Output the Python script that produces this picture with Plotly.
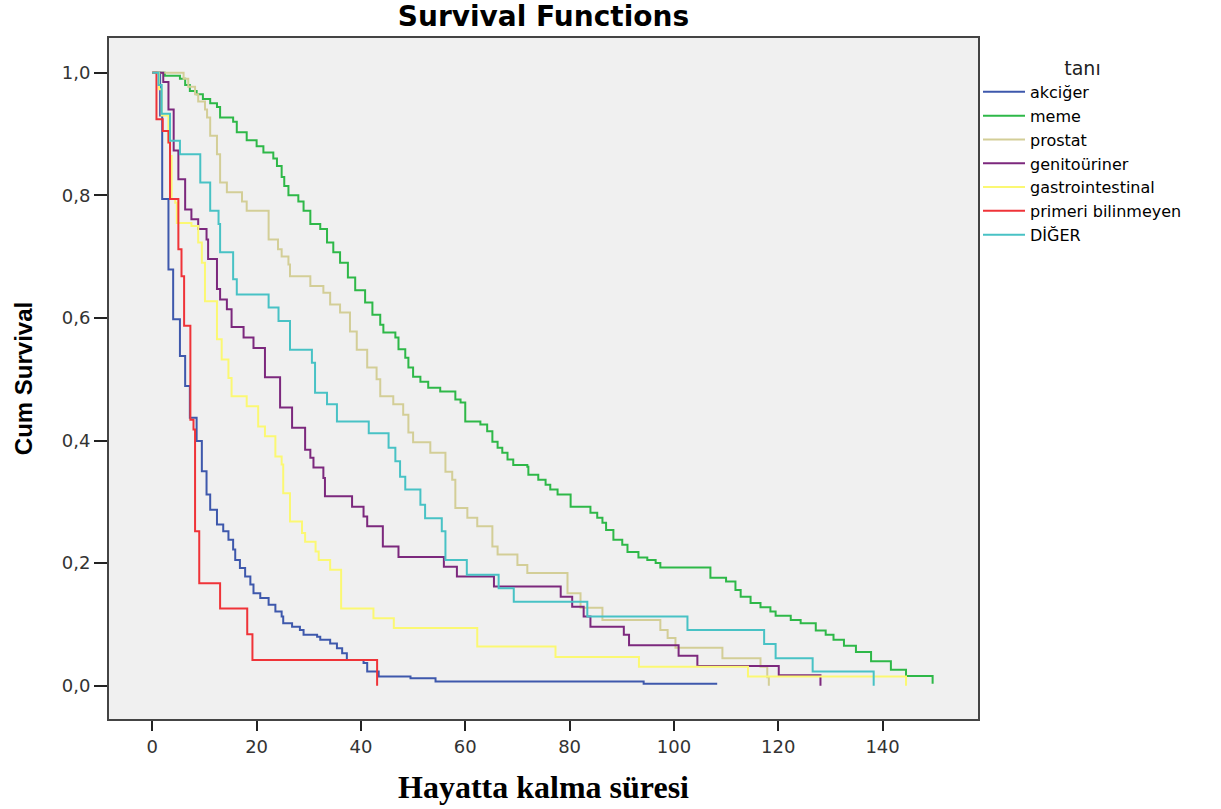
import plotly.graph_objects as go

# ---- data (time, cumulative survival after each step) ----
groups = ["akciğer", "meme", "prostat", "genitoüriner", "gastrointestinal",
          "primeri bilinmeyen", "DİĞER"]
colors = ["#3E58AC", "#2EB848", "#D3CE97", "#7C287D", "#FBF873", "#EF3338", "#48C2C5"]

akciger_t = [1.5, 1.9, 3.1, 4.0, 5.3, 6.3, 7.2, 8.5, 9.5, 10.4, 11.1, 12.4, 13.6, 14.6, 15.5,
             15.9, 16.8, 17.8, 18.8, 19.4, 20.7, 22.3, 23.6, 24.8, 25.1, 26.8, 28.3, 29.0,
             31.6, 32.2, 34.1, 35.4, 36.4, 37.3, 40.5, 41.2, 43.4, 49.5, 54.3, 94.2, 108.3]
akciger_s = [0.93, 0.794, 0.679, 0.598, 0.538, 0.489, 0.437, 0.399, 0.35, 0.312, 0.287, 0.263,
             0.252, 0.238, 0.222, 0.205, 0.192, 0.178, 0.165, 0.151, 0.143, 0.132, 0.121, 0.113,
             0.102, 0.096, 0.091, 0.083, 0.08, 0.075, 0.069, 0.061, 0.053, 0.042, 0.037, 0.023,
             0.015, 0.012, 0.007, 0.003, 0.003]

meme_t = [2.4, 5.3, 6.3, 7.2, 8.5, 9.7, 11.1, 12.4, 13.0, 15.5, 16.2, 18.1, 20.0, 21.3, 23.2,
          23.9, 24.8, 25.3, 26.1, 28.0, 29.0, 30.3, 32.2, 33.5, 34.7, 36.0, 37.5, 38.9, 40.8,
          42.2, 43.7, 44.3, 46.6, 47.2, 48.5, 49.1, 50.0, 51.4, 52.9, 55.2, 58.1, 59.1, 60.0,
          62.9, 64.2, 65.2, 66.2, 67.1, 68.1, 69.2, 71.9, 72.1, 74.0, 75.4, 76.3, 77.7, 80.2,
          84.0, 85.3, 86.3, 87.0, 88.4, 90.1, 91.1, 93.2, 94.9, 96.5, 97.4, 107.0, 110.0, 111.8,
          112.8, 114.7, 116.6, 118.5, 119.5, 122.4, 124.3, 127.2, 129.1, 130.6, 132.6, 134.9,
          137.8, 141.6, 144.5, 149.6]
meme_s = [0.995, 0.99, 0.98, 0.97, 0.965, 0.957, 0.95, 0.944, 0.927, 0.92, 0.903, 0.89, 0.88,
          0.87, 0.86, 0.848, 0.83, 0.815, 0.80, 0.79, 0.775, 0.753, 0.745, 0.723, 0.707, 0.69,
          0.666, 0.645, 0.625, 0.605, 0.589, 0.576, 0.568, 0.549, 0.535, 0.519, 0.504, 0.496,
          0.486, 0.48, 0.467, 0.462, 0.431, 0.426, 0.415, 0.398, 0.388, 0.38, 0.369, 0.36,
          0.357, 0.344, 0.336, 0.328, 0.32, 0.312, 0.292, 0.282, 0.274, 0.266, 0.254, 0.238,
          0.23, 0.218, 0.209, 0.205, 0.2, 0.193, 0.176, 0.17, 0.156, 0.145, 0.135, 0.128, 0.121,
          0.114, 0.107, 0.102, 0.09, 0.083, 0.075, 0.065, 0.055, 0.04, 0.026, 0.016, 0.003]

prostat_t = [6.0, 6.9, 8.2, 8.8, 10.1, 10.5, 11.1, 12.4, 13.0, 14.3, 17.2, 18.1, 22.3, 24.1,
             24.8, 26.1, 26.4, 30.3, 32.8, 34.1, 36.0, 37.9, 39.2, 41.2, 43.0, 43.7, 46.2, 48.1,
             49.1, 50.0, 53.3, 56.2, 57.5, 58.1, 60.4, 62.3, 65.2, 66.2, 70.0, 71.9, 79.6, 82.1,
             86.3, 97.4, 98.8, 100.3, 109.3, 116.6, 117.9, 118.2]
prostat_s = [0.99, 0.977, 0.965, 0.953, 0.94, 0.927, 0.897, 0.867, 0.821, 0.805, 0.79, 0.775,
             0.728, 0.712, 0.70, 0.687, 0.668, 0.652, 0.641, 0.622, 0.609, 0.578, 0.548, 0.519,
             0.5, 0.472, 0.459, 0.442, 0.413, 0.397, 0.38, 0.349, 0.336, 0.29, 0.274, 0.26,
             0.227, 0.214, 0.197, 0.184, 0.151, 0.127, 0.107, 0.091, 0.078, 0.062, 0.045, 0.031,
             0.014, 0.0]

genito_t = [2.1, 3.1, 4.1, 5.0, 6.3, 7.5, 8.8, 10.4, 10.7, 12.4, 13.0, 14.3, 15.2, 17.5, 19.4,
            21.6, 24.5, 26.8, 29.3, 30.3, 30.9, 32.8, 33.1, 38.3, 40.5, 41.2, 44.2, 47.2, 55.9,
            58.4, 65.5, 78.3, 80.5, 82.7, 84.0, 90.4, 91.4, 100.9, 104.5, 120.1, 128.1]
genito_s = [0.985, 0.94, 0.873, 0.826, 0.777, 0.761, 0.745, 0.728, 0.696, 0.647, 0.63, 0.614,
            0.585, 0.568, 0.551, 0.503, 0.454, 0.421, 0.385, 0.372, 0.356, 0.339, 0.309, 0.292,
            0.276, 0.26, 0.227, 0.21, 0.194, 0.178, 0.162, 0.145, 0.129, 0.113, 0.096, 0.083,
            0.066, 0.049, 0.032, 0.017, 0.0]

gastro_t = [1.3, 1.8, 3.1, 3.4, 3.7, 4.4, 4.7, 7.5, 8.8, 9.5, 10.1, 12.4, 13.3, 14.6, 15.2,
            18.1, 20.3, 21.6, 23.6, 24.8, 25.1, 26.4, 28.7, 29.3, 31.3, 31.9, 34.1, 36.2, 42.4,
            46.3, 62.3, 77.3, 93.3, 114.2, 144.5]
gastro_s = [0.973, 0.93, 0.886, 0.864, 0.794, 0.788, 0.755, 0.75, 0.723, 0.69, 0.627, 0.565,
            0.532, 0.502, 0.472, 0.456, 0.423, 0.407, 0.374, 0.361, 0.314, 0.268, 0.249, 0.235,
            0.219, 0.205, 0.189, 0.126, 0.110, 0.094, 0.064, 0.047, 0.031, 0.015, 0.0]

primeri_t = [0.8, 2.0, 3.1, 3.4, 5.0, 5.6, 6.1, 7.3, 7.9, 8.2, 9.0, 13.0, 18.2, 19.2, 43.1]
primeri_s = [0.924, 0.905, 0.886, 0.794, 0.712, 0.668, 0.587, 0.434, 0.418, 0.252, 0.167,
             0.126, 0.084, 0.042, 0.0]

diger_t = [1.2, 1.8, 3.4, 5.3, 9.2, 11.1, 12.7, 13.0, 15.5, 16.2, 22.3, 24.2, 26.4, 30.6, 31.2,
           33.5, 35.4, 41.5, 45.3, 46.6, 47.5, 48.5, 51.4, 52.3, 55.5, 56.2, 60.3, 66.4, 69.3,
           83.4, 102.6, 117.3, 119.5, 126.6, 138.3]
diger_s = [0.98, 0.933, 0.889, 0.867, 0.821, 0.775, 0.753, 0.707, 0.663, 0.638, 0.617, 0.595,
           0.548, 0.527, 0.478, 0.459, 0.431, 0.412, 0.388, 0.366, 0.341, 0.32, 0.295, 0.273,
           0.252, 0.205, 0.181, 0.159, 0.137, 0.113, 0.091, 0.068, 0.045, 0.023, 0.0]

series_t = [akciger_t, meme_t, prostat_t, genito_t, gastro_t, primeri_t, diger_t]
series_s = [akciger_s, meme_s, prostat_s, genito_s, gastro_s, primeri_s, diger_s]

x_ticks = [0, 20, 40, 60, 80, 100, 120, 140]
y_ticks = [0.0, 0.2, 0.4, 0.6, 0.8, 1.0]

fig = go.Figure()
for name, col, tt, ss in zip(groups, colors, series_t, series_s):
    fig.add_trace(go.Scatter(
        x=[0] + tt, y=[1.0] + ss, mode="lines", name=name,
        line=dict(color=col, width=2, shape="hv"),
    ))

fig.update_layout(
    width=1221, height=809,
    margin=dict(l=109, r=243, t=38, b=90),
    paper_bgcolor="white", plot_bgcolor="#f0f0f0",
    separators=",.",
    showlegend=True,
    title=dict(text="<b>Survival Functions</b>", x=543.5 / 1221, xanchor="center",
               y=1 - 16 / 809, yanchor="middle",
               font=dict(family="DejaVu Sans", size=28, color="black")),
    legend=dict(
        x=1.0, xanchor="left", y=0.982, yanchor="top",
        bgcolor="rgba(0,0,0,0)", borderwidth=0,
        font=dict(family="DejaVu Sans", size=16, color="black"),
        title=dict(text="tanı", side="top center",
                   font=dict(family="DejaVu Sans", size=19, color="#222")),
        itemwidth=42, tracegroupgap=0,
    ),
    xaxis=dict(
        range=[-8.3, 158.3], tickvals=x_ticks, showgrid=False, zeroline=False,
        showline=True, linecolor="#444", linewidth=2, mirror=True, automargin=False,
        ticks="outside", ticklen=10, tickwidth=2, tickcolor="#222",
        tickfont=dict(family="DejaVu Sans", size=18, color="#333"),
        title=dict(text="<b>Hayatta kalma süresi</b>", standoff=20,
                   font=dict(family="Liberation Serif", size=32, color="black")),
    ),
    yaxis=dict(
        range=[-0.0543, 1.0566], tickvals=y_ticks, tickformat=".1f", showgrid=False,
        zeroline=False, showline=True, linecolor="#444", linewidth=2, mirror=True,
        automargin=False,
        ticks="outside", ticklen=13, tickwidth=2, tickcolor="#222",
        tickfont=dict(family="DejaVu Sans", size=18, color="#333"),
        title=dict(text="<b>Cum Survival</b>", standoff=22,
                   font=dict(family="Liberation Sans", size=24, color="black")),
    ),
)

fig.write_html("out.html", config={"displayModeBar": False},
               post_script="document.body.style.margin='0px';")
